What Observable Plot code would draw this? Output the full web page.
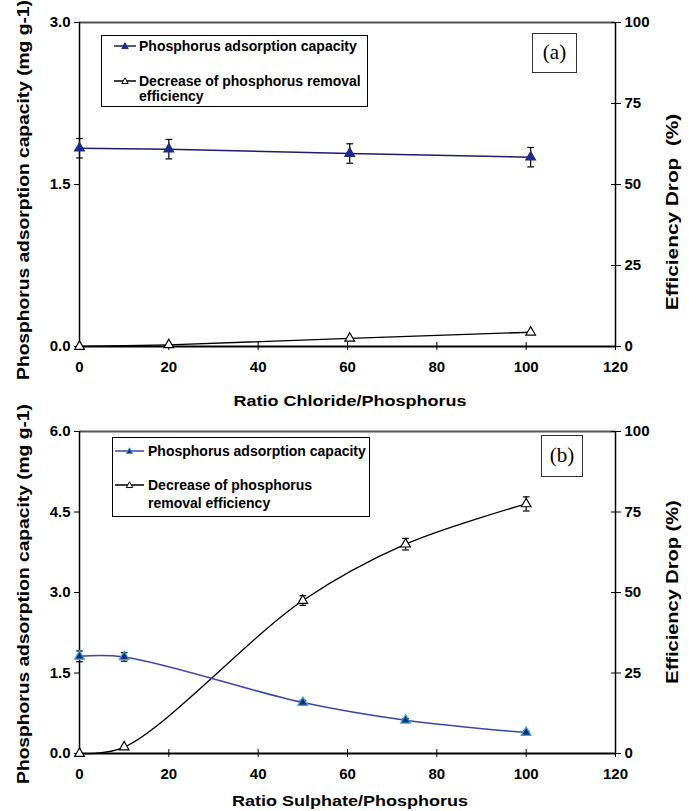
<!DOCTYPE html>
<html><head><meta charset="utf-8">
<script src="https://cdn.jsdelivr.net/npm/d3@7"></script>
<script src="https://cdn.jsdelivr.net/npm/@observablehq/plot@0.6"></script>
<style>
body{margin:0;background:#fff;}
#root{position:relative;width:692px;height:811px;font-family:"Liberation Sans",Arial,sans-serif;font-weight:bold;overflow:hidden;}
.ov{position:absolute;white-space:nowrap;}
.legend{position:absolute;border:1.5px solid #000;background:#fff;box-sizing:border-box;}
.tag{position:absolute;border:1.5px solid #333;background:#fff;box-sizing:border-box;font-family:"Liberation Serif","Times New Roman",serif;font-weight:normal;font-size:21px;text-align:center;}
</style>
</head><body>
<div id="root"></div>
<script>
// ---- Panel (a): Chloride ----
const ratioA = [0, 20, 60.5, 101];
const capA = [1.836, 1.827, 1.787, 1.753];
const capErrA = [0.09, 0.09, 0.09, 0.09];
const dropA = [0, 0.5, 2.5, 4.4];
// ---- Panel (b): Sulphate ----
const ratioB = [0, 10, 50, 73, 100];
const capB = [1.81, 1.80, 0.95, 0.62, 0.39];
const capErrB = [0.10, 0.08, 0.04, 0.03, 0.03];
const dropB = [0, 2.0, 47.5, 65, 77.5];
const dropErrB = [0, 0, 1.5, 1.8, 2.2];
// ---- Axes ----
const xTicks = [0, 20, 40, 60, 80, 100, 120];
const leftTicksA = [0, 1.5, 3.0];
const leftTicksB = [0, 1.5, 3.0, 4.5, 6.0];
const rightTicks = [0, 25, 50, 75, 100];
const xTitleA = "Ratio Chloride/Phosphorus";
const xTitleB = "Ratio Sulphate/Phosphorus";
const yTitle = "Phosphorus adsorption capacity (mg g-1)";
const y2TitleA = "Efficiency Drop\u00a0\u00a0(%)";
const y2TitleB = "Efficiency Drop (%)";
const legendCap = "Phosphorus adsorption capacity";
const legendDropA = ["Decrease of phosphorus removal", "efficiency"];
const legendDropB = ["Decrease of phosphorus", "removal efficiency"];

const root = document.getElementById("root");
const FONT = "'Liberation Sans', Arial, sans-serif";

function panel({xs, cap, capErr, drop, dropErr, ymax, leftTicks, height, top, bottom, curve, capStroke, capFill, capDotStroke}) {
  const k = ymax / 100;
  const idx = d3.range(xs.length);
  const capHalf = 0.75;
  const marks = [
    Plot.ruleY([ymax], {stroke: "#555", strokeWidth: 2}),
    Plot.ruleX([120], {stroke: "#000", strokeWidth: 1.5}),
    Plot.axisX(xTicks, {tickSize: 4, tickPadding: 11, label: null, fontSize: 15, fontWeight: "bold"}),
    Plot.axisX(xTicks, {anchor: "bottom", tickSize: 4, dy: -4, tickFormat: () => "", label: null}),
    Plot.axisY(leftTicks, {tickSize: 5, tickPadding: 4, tickFormat: d3.format(".1f"), label: null, fontSize: 15, fontWeight: "bold"}),
    Plot.axisY(rightTicks.map(v => v * k), {anchor: "right", tickSize: 5, tickPadding: 4, tickFormat: d => String(Math.round(d / k)), label: null, fontSize: 15, fontWeight: "bold"}),
    Plot.axisY(rightTicks.map(v => v * k), {anchor: "right", tickSize: 5, dx: -5, tickFormat: () => "", label: null}),
    Plot.ruleX([0], {stroke: "#000", strokeWidth: 1.5}),
    Plot.ruleY([0], {stroke: "#000", strokeWidth: 2}),
    Plot.line(idx, {x: i => xs[i], y: i => drop[i] * k, stroke: "#000", strokeWidth: 1.3, curve}),
  ];
  if (dropErr) {
    const e = idx.filter(i => dropErr[i] > 0);
    marks.push(
      Plot.ruleX(e, {x: i => xs[i], y1: i => (drop[i] - dropErr[i]) * k, y2: i => (drop[i] + dropErr[i]) * k, stroke: "#000", strokeWidth: 1.2}),
      Plot.link(e, {x1: i => xs[i] - capHalf, x2: i => xs[i] + capHalf, y1: i => (drop[i] + dropErr[i]) * k, y2: i => (drop[i] + dropErr[i]) * k, stroke: "#000", strokeWidth: 1.2}),
      Plot.link(e, {x1: i => xs[i] - capHalf, x2: i => xs[i] + capHalf, y1: i => (drop[i] - dropErr[i]) * k, y2: i => (drop[i] - dropErr[i]) * k, stroke: "#000", strokeWidth: 1.2})
    );
  }
  marks.push(
    Plot.dot(idx, {x: i => xs[i], y: i => drop[i] * k, symbol: "triangle", r: 3.6, fill: "#fff", stroke: "#000", strokeWidth: 1.2}),
    Plot.line(idx, {x: i => xs[i], y: i => cap[i], stroke: capStroke, strokeWidth: 1.5, curve}),
    Plot.ruleX(idx, {x: i => xs[i], y1: i => cap[i] - capErr[i], y2: i => cap[i] + capErr[i], stroke: "#000", strokeWidth: 1.2}),
    Plot.link(idx, {x1: i => xs[i] - capHalf, x2: i => xs[i] + capHalf, y1: i => cap[i] + capErr[i], y2: i => cap[i] + capErr[i], stroke: "#000", strokeWidth: 1.2}),
    Plot.link(idx, {x1: i => xs[i] - capHalf, x2: i => xs[i] + capHalf, y1: i => cap[i] - capErr[i], y2: i => cap[i] - capErr[i], stroke: "#000", strokeWidth: 1.2}),
    Plot.dot(idx, {x: i => xs[i], y: i => cap[i], symbol: "triangle", r: 3.6, fill: capFill, stroke: capDotStroke, strokeWidth: 1.2})
  );
  return Plot.plot({
    width: 692, height,
    marginLeft: 79, marginRight: 77, marginTop: top, marginBottom: bottom,
    x: {domain: [0, 120]},
    y: {domain: [0, ymax]},
    style: {fontFamily: FONT, fontWeight: "bold", fontSize: "15px", color: "#000", background: "transparent", overflow: "visible"},
    marks
  });
}

function place(el, left, top) {
  el.style.position = "absolute"; el.style.left = left + "px"; el.style.top = top + "px";
  root.appendChild(el);
}
function text(str, css) {
  const d = document.createElement("div"); d.className = "ov"; d.textContent = str;
  Object.assign(d.style, css); root.appendChild(d); return d;
}
function legend(left, top, w, h, o, rows, capColor, capFill, capDotStroke) {
  const box = document.createElement("div"); box.className = "legend";
  Object.assign(box.style, {left: left + "px", top: top + "px", width: w + "px", height: h + "px"});
  const ns = "http://www.w3.org/2000/svg";
  const svg = document.createElementNS(ns, "svg");
  svg.setAttribute("width", w); svg.setAttribute("height", h);
  svg.style.position = "absolute"; svg.style.left = "0"; svg.style.top = "0";
  const sample = (y, stroke, fill, dotStroke) => {
    const l = document.createElementNS(ns, "line");
    l.setAttribute("x1", o.x1); l.setAttribute("x2", o.x2); l.setAttribute("y1", y); l.setAttribute("y2", y);
    l.setAttribute("stroke", stroke); l.setAttribute("stroke-width", 1.5); svg.appendChild(l);
    const t = document.createElementNS(ns, "path");
    const cx = (o.x1 + o.x2) / 2, r = 3.2;
    t.setAttribute("d", `M${cx},${y - r}L${cx + r},${y + r * 0.8}L${cx - r},${y + r * 0.8}Z`);
    t.setAttribute("fill", fill); t.setAttribute("stroke", dotStroke); t.setAttribute("stroke-width", 1); svg.appendChild(t);
  };
  sample(rows[0].y, capColor, capFill, capDotStroke);
  sample(rows[1].y, "#000", "#fff", "#000");
  box.appendChild(svg);
  rows.forEach(r => r.lines.forEach((s, j) => {
    const d = document.createElement("div"); d.textContent = s;
    Object.assign(d.style, {position: "absolute", left: o.tx + "px", top: (r.y - 8.5 + j * o.lh) + "px", fontSize: "14px", lineHeight: "17px", whiteSpace: "nowrap"});
    box.appendChild(d);
  }));
  root.appendChild(box);
}

// Top panel
const svgA = panel({xs: ratioA, cap: capA, capErr: capErrA, drop: dropA, dropErr: null, ymax: 3,
  leftTicks: leftTicksA, height: 400, top: 22, bottom: 54, curve: "linear",
  capStroke: "#1c1f6b", capFill: "#1c2a8a", capDotStroke: "#1c2a8a"});
place(svgA, 0, 0);
// Bottom panel
const svgB = panel({xs: ratioB, cap: capB, capErr: capErrB, drop: dropB, dropErr: dropErrB, ymax: 6,
  leftTicks: leftTicksB, height: 411, top: 31, bottom: 58, curve: "catmull-rom",
  capStroke: "#3a46b0", capFill: "#1c2a7a", capDotStroke: "#35a8d8"});
place(svgB, 0, 400);

// Axis titles (stretched along their length like the reference)
const title = (s, cx, cy, size, sx, rot) => {
  const d = text(s, {left: cx + "px", top: cy + "px", fontSize: size + "px", lineHeight: "1"});
  d.style.transform = `translate(-50%,-50%) ${rot ? "rotate(-90deg) " : ""}scaleX(${sx})`;
};
title(xTitleA, 350, 400, 15, 1.2, false);
title(xTitleB, 350, 800, 15, 1.2, false);
title(yTitle, 24, 190, 16, 1.2, true);
title(yTitle, 24, 594, 16, 1.2, true);
title(y2TitleA, 673, 212, 16, 1.3, true);
title(y2TitleB, 673, 592, 16, 1.25, true);

// Legends
legend(101, 35, 267, 72, {x1: 12, x2: 34, tx: 37, lh: 15}, [{y: 10, lines: [legendCap]}, {y: 45, lines: legendDropA}], "#1c1f6b", "#1c2a8a", "#1c2a8a");
legend(112, 437, 258, 80, {x1: 2, x2: 31, tx: 35, lh: 18}, [{y: 13, lines: [legendCap]}, {y: 47, lines: legendDropB}], "#3a46b0", "#1c2a7a", "#35a8d8");

// Panel tags
const tA = text("(a)", {}); tA.className = "tag"; Object.assign(tA.style, {left: "532px", top: "33px", width: "45px", height: "40px", lineHeight: "37px"});
const tB = text("(b)", {}); tB.className = "tag"; Object.assign(tB.style, {left: "541px", top: "435px", width: "42px", height: "42px", lineHeight: "39px"});
</script>
</body></html>
